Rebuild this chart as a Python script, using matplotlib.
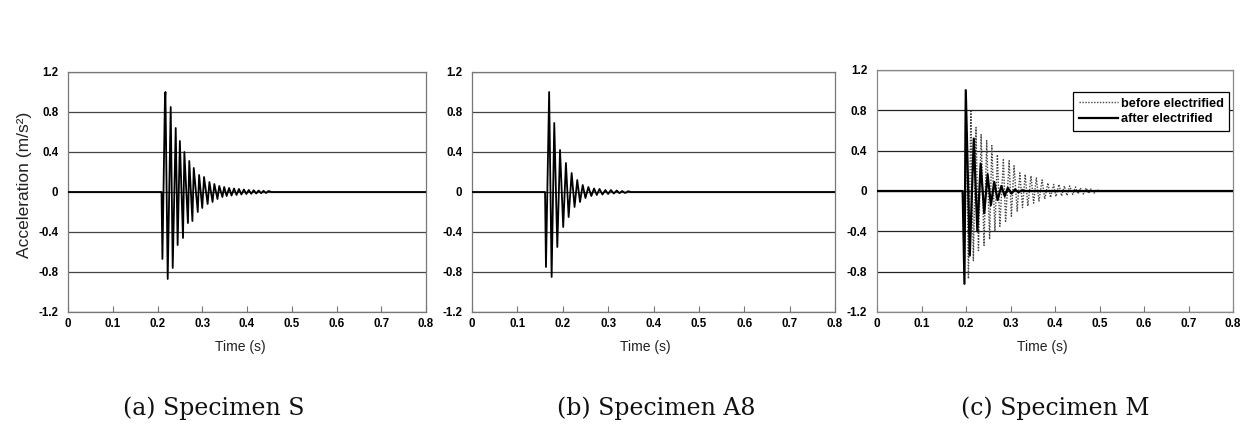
import matplotlib
matplotlib.use("Agg")
import matplotlib.pyplot as plt

# ---------------- data ----------------
x_ticks = [0, 0.1, 0.2, 0.3, 0.4, 0.5, 0.6, 0.7, 0.8]
x_tick_labels = ["0", "0.1", "0.2", "0.3", "0.4", "0.5", "0.6", "0.7", "0.8"]
y_ticks = [-1.2, -0.8, -0.4, 0, 0.4, 0.8, 1.2]
y_tick_labels = ["-1.2", "-0.8", "-0.4", "0", "0.4", "0.8", "1.2"]

# (a) Specimen S - turning points of the acceleration signal
s_time = [0, 0.205, 0.209, 0.211, 0.2165, 0.2177, 0.2228, 0.2295, 0.234, 0.2407,
          0.245, 0.250, 0.257, 0.260, 0.268, 0.271, 0.278, 0.281, 0.290, 0.293,
          0.300, 0.304, 0.312, 0.316, 0.323, 0.327, 0.334, 0.338, 0.345, 0.349,
          0.3545, 0.360, 0.3655, 0.371, 0.3765, 0.382, 0.3875, 0.393, 0.3985,
          0.404, 0.4095, 0.415, 0.4205, 0.426, 0.4315, 0.437, 0.4425, 0.448,
          0.455, 0.8]
s_accel = [0, 0, 0, -0.67, 0.90, 1.00, -0.87, 0.85, -0.76, 0.64,
           -0.53, 0.51, -0.46, 0.40, -0.31, 0.31, -0.29, 0.24, -0.20, 0.17,
           -0.16, 0.15, -0.12, 0.10, -0.10, 0.08, -0.07, 0.06, -0.05, 0.05,
           -0.04, 0.04, -0.035, 0.035, -0.03, 0.03, -0.025, 0.025, -0.02,
           0.02, -0.018, 0.018, -0.015, 0.015, -0.012, 0.012, -0.01, 0.01,
           0, 0]

# (b) Specimen A8
a8_time = [0, 0.159, 0.161, 0.163, 0.170, 0.1755, 0.1813, 0.188, 0.194, 0.201,
           0.207, 0.213, 0.2196, 0.226, 0.232, 0.238, 0.244, 0.250, 0.2565,
           0.263, 0.269, 0.275, 0.281, 0.2875, 0.294, 0.300, 0.306, 0.3125,
           0.319, 0.325, 0.331, 0.3375, 0.344, 0.350, 0.8]
a8_accel = [0, 0, 0, -0.75, 1.00, -0.85, 0.69, -0.55, 0.42, -0.35,
            0.29, -0.25, 0.19, -0.15, 0.12, -0.10, 0.07, -0.06, 0.05,
            -0.04, 0.035, -0.03, 0.03, -0.025, 0.02, -0.02, 0.02, -0.015,
            0.015, -0.012, 0.01, -0.01, 0.008, 0, 0]

# (c) Specimen M - before electrified (dotted)
m_before_time = [0, 0.192, 0.1955, 0.1995, 0.2055, 0.211, 0.2165, 0.2225, 0.228,
                 0.234, 0.2405, 0.2465, 0.253, 0.258, 0.265, 0.2705, 0.276,
                 0.284, 0.289, 0.297, 0.302, 0.308, 0.315, 0.321, 0.327, 0.333,
                 0.339, 0.346, 0.352, 0.358, 0.364, 0.371, 0.377, 0.384, 0.390,
                 0.397, 0.402, 0.409, 0.415, 0.421, 0.427, 0.433, 0.440, 0.446,
                 0.452, 0.457, 0.464, 0.470, 0.476, 0.481, 0.488, 0.494, 0.500,
                 0.8]
m_before_accel = [0, 0, -0.56, 0.98, -0.87, 0.79, -0.69, 0.63, -0.59,
                  0.56, -0.54, 0.50, -0.48, 0.45, -0.40, 0.36, -0.35,
                  0.31, -0.30, 0.30, -0.25, 0.25, -0.20, 0.18, -0.165, 0.165,
                  -0.15, 0.15, -0.12, 0.13, -0.10, 0.11, -0.08, 0.08, -0.065,
                  0.065, -0.055, 0.065, -0.05, 0.05, -0.045, 0.05, -0.035, 0.04,
                  -0.03, 0.03, -0.03, 0.03, -0.025, 0.02, -0.02, 0.015, 0,
                  0]

# (c) Specimen M - after electrified (solid)
m_after_time = [0, 0.1925, 0.1965, 0.1995, 0.2085, 0.2175, 0.2255, 0.233, 0.241,
                0.2485, 0.256, 0.2635, 0.271, 0.2795, 0.287, 0.294, 0.302,
                0.310, 0.318, 0.326, 0.334, 0.8]
m_after_accel = [0, 0, -0.92, 1.00, -0.64, 0.52, -0.40, 0.27, -0.22,
                 0.165, -0.14, 0.09, -0.09, 0.05, -0.05, 0.03, -0.025,
                 0.015, -0.012, 0.008, 0, 0]

captions = ["(a) Specimen S", "(b) Specimen A8", "(c) Specimen M"]
legend_labels = ["before electrified", "after electrified"]

# ---------------- figure ----------------
W, H = 1242, 424
fig = plt.figure(figsize=(W / 100, H / 100), dpi=100)
fig.patch.set_facecolor("white")

def px_axes(left, top, right, bottom):
    return fig.add_axes([left / W, 1 - bottom / H, (right - left) / W, (bottom - top) / H])

ax_a = px_axes(68, 72, 426, 312)
ax_b = px_axes(472, 72, 835, 312)
ax_c = px_axes(877, 70, 1233, 312)

tick_font = dict(family=["Liberation Sans", "DejaVu Sans"], weight="bold", size=8.3)
tick_font_c = dict(family=["Liberation Sans Narrow", "Liberation Sans", "DejaVu Sans"],
                   weight="bold", size=8.5)

def style(ax, grid_color, spine_color, tf):
    ax.set_xlim(0, 0.8)
    ax.set_ylim(-1.2, 1.2)
    ax.set_xticks(x_ticks)
    ax.set_xticklabels(x_tick_labels, fontdict=tf)
    ax.set_yticks(y_ticks)
    ax.set_yticklabels(y_tick_labels, fontdict=tf)
    ax.tick_params(axis="x", direction="in", length=4, width=0.8, color="#777777", pad=4)
    ax.tick_params(axis="y", length=0, pad=7)
    ax.yaxis.grid(True, color=grid_color, linewidth=0.9)
    ax.set_axisbelow(True)
    for sp in ax.spines.values():
        sp.set_color(spine_color)
        sp.set_linewidth(0.9)

style(ax_a, "#444444", "#777777", tick_font)
style(ax_b, "#444444", "#777777", tick_font)
style(ax_c, "#222222", "#888888", tick_font_c)

ax_a.plot(s_time, s_accel, color="black", linewidth=1.3, zorder=3)
ax_b.plot(a8_time, a8_accel, color="black", linewidth=1.3, zorder=3)

l1, = ax_c.plot(m_before_time, m_before_accel, color="#444444", linewidth=1.0,
                linestyle=(0, (1, 1.1)), zorder=3)
l2, = ax_c.plot(m_after_time, m_after_accel, color="black", linewidth=1.6, zorder=4)
leg = ax_c.legend([l1, l2], legend_labels, loc="upper right",
                  bbox_to_anchor=(0.99, 0.91), borderaxespad=0, frameon=True, fancybox=False,
                  framealpha=1, edgecolor="black", handlelength=3.1,
                  handletextpad=0.2, borderpad=0.45, labelspacing=0.3,
                  prop=dict(family=["Liberation Sans", "DejaVu Sans"], weight="bold", size=9.2))
leg.get_frame().set_linewidth(0.9)

# axis titles
lab_font = ["Liberation Sans", "DejaVu Sans"]
fig.text(25 / W, 1 - 185 / H, "Acceleration (m/s²)", rotation=90, ha="center", va="center",
         family=lab_font, fontsize=12.5, color="#222222")
for xc in (240, 645, 1042):
    fig.text(xc / W, 1 - 347 / H, "Time (s)", ha="center", va="center",
             family=lab_font, fontsize=10, color="#222222")

# captions
for xc, cap in zip((214, 656, 1055), captions):
    fig.text(xc / W, 1 - 408 / H, cap, ha="center", va="center",
             family=["DejaVu Serif"], fontsize=17, color="#111111")

fig.savefig("out.png", dpi=100, facecolor="white")
